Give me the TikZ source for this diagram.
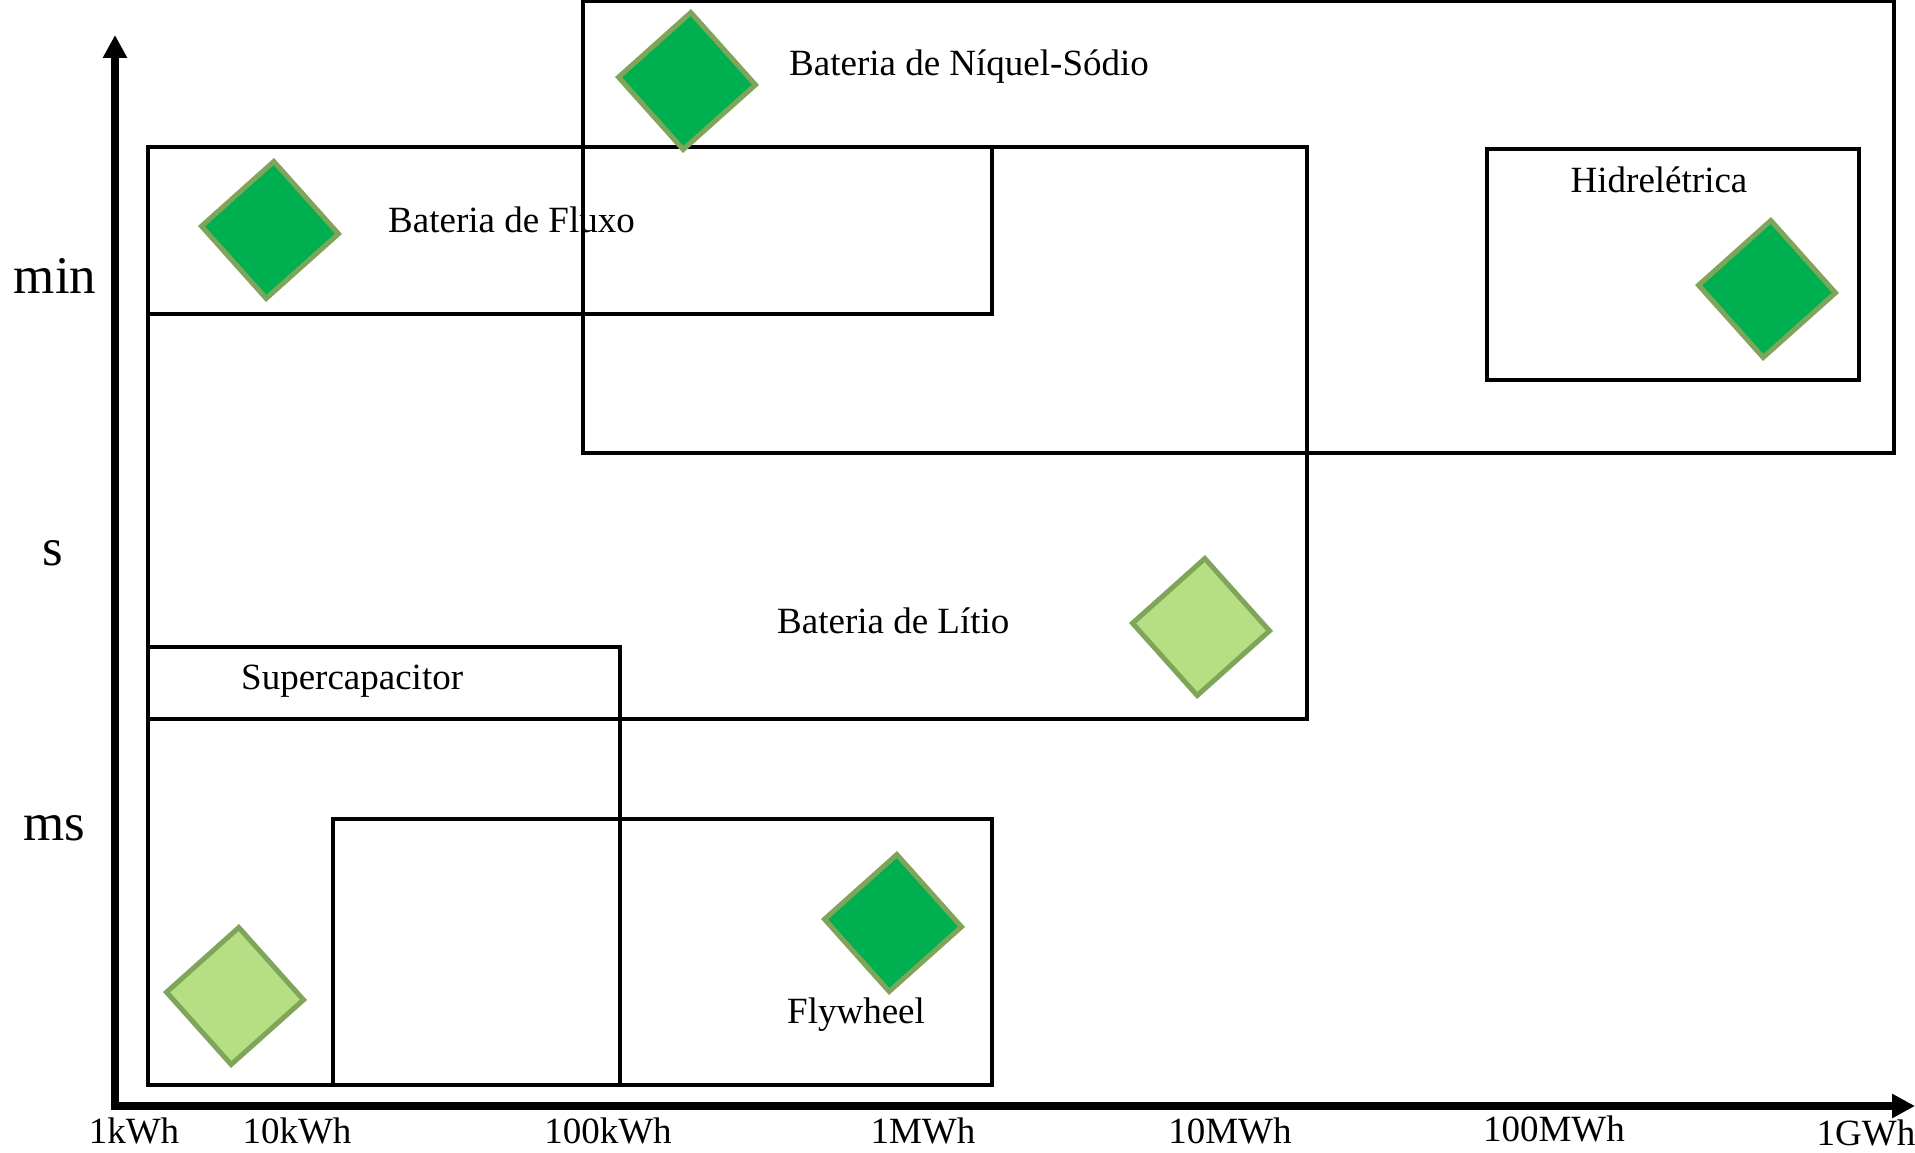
\documentclass[tikz,border=0pt]{standalone}
\usepackage{fontspec}
\setmainfont{Liberation Serif}
\usetikzlibrary{arrows.meta}
\definecolor{dkgreen}{HTML}{00B050}
\definecolor{ltgreen}{HTML}{B5DF82}
\definecolor{edgegreen}{HTML}{7FA55A}
\begin{document}
\begin{tikzpicture}[x=1pt,y=-1pt,
  box/.style={draw=black, line width=3.5pt},
  axis/.style={line width=8pt, -{Triangle[length=23pt,width=23pt]}},
  gem/.style={rectangle, draw=edgegreen, line width=5pt, minimum size=97pt, rotate=41.8, inner sep=0pt},
  dark/.style={gem, fill=dkgreen},
  light/.style={gem, fill=ltgreen},
  lbl/.style={font=\fontsize{37}{44}\selectfont, inner sep=0pt, anchor=base west},
  tick/.style={font=\fontsize{37}{44}\selectfont, inner sep=0pt, anchor=base},
  ylab/.style={font=\fontsize{53}{60}\selectfont, inner sep=0pt, anchor=base},
]
\useasboundingbox (0,0) rectangle (1915,1153);
% labels
\node[lbl] (niquel) at (789,76) {Bateria de Níquel-Sódio};
\node[lbl] (fluxo) at (388,232) {Bateria de Fluxo};
\node[lbl, anchor=base] (hidro) at (1659,193) {Hidrelétrica};
\node[lbl] (litio) at (777,633) {Bateria de Lítio};
\node[lbl] (super) at (241,689) {Supercapacitor};
\node[lbl] (fly) at (787,1023) {Flywheel};
% boxes
\draw[box] (583,1.5) rectangle (1894,453);
\draw[box] (148,147) rectangle (992,314);
\draw[box] (148,147) rectangle (1307,719);
\draw[box] (1487,149) rectangle (1859,380);
\draw[box] (148,647) rectangle (620,1085);
\draw[box] (333,819) rectangle (992,1085);
% diamonds
\node[dark] (dniquel) at (687,81) {};
\node[dark] (dfluxo) at (270,230) {};
\node[dark] (dhidro) at (1767,289) {};
\node[light] (dlitio) at (1201,627) {};
\node[dark] (dfly) at (893,923) {};
\node[light] (dsuper) at (235,996) {};
% axes
\coordinate (ybot) at (115,1110);
\coordinate (ytip) at (115,35);
\coordinate (xleft) at (111,1106);
\coordinate (xtip) at (1915,1106);
\draw[axis] (ybot) -- (ytip);
\draw[axis] (xleft) -- (xtip);
% axis labels
\node[ylab] (ymin) at (55,293) {min};
\node[ylab] (ys) at (53,565) {s};
\node[ylab] (yms) at (54,840) {ms};
\node[tick] (t1) at (134,1143) {1kWh};
\node[tick] (t2) at (297,1143) {10kWh};
\node[tick] (t3) at (608,1143) {100kWh};
\node[tick] (t4) at (923,1143) {1MWh};
\node[tick] (t5) at (1230,1143) {10MWh};
\node[tick] (t6) at (1554,1141) {100MWh};
\node[tick] (t7) at (1866,1145) {1GWh};
\end{tikzpicture}
\end{document}
